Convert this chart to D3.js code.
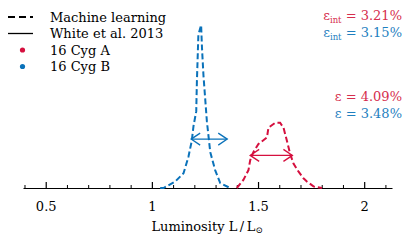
<!DOCTYPE html>
<html>
<head>
<meta charset="utf-8">
<script src="https://cdn.jsdelivr.net/npm/d3@7"></script>
<style>
  body { margin: 0; background: #fff; }
  text { font-family: "DejaVu Serif", serif; }
</style>
</head>
<body>
<div id="chart"></div>
<script>
// Luminosity values (L/Lsun) and relative density.
var lumA = [1.400, 1.431, 1.455, 1.463, 1.478, 1.502, 1.542, 1.549, 1.581, 1.604, 1.620, 1.636, 1.651, 1.667, 1.691, 1.714, 1.730, 1.761, 1.801];
var densA = [0, 0.05, 0.11, 0.17, 0.22, 0.27, 0.31, 0.37, 0.40, 0.40, 0.37, 0.29, 0.21, 0.15, 0.10, 0.06, 0.04, 0.01, 0];
var lumB = [1.039, 1.055, 1.110, 1.149, 1.172, 1.188, 1.196, 1.209, 1.212, 1.219, 1.232, 1.236, 1.243, 1.251, 1.259, 1.275, 1.298, 1.322, 1.369];
var densB = [0, 0, 0.04, 0.09, 0.19, 0.29, 0.38, 0.47, 0.65, 0.94, 1.0, 0.86, 0.69, 0.55, 0.41, 0.22, 0.11, 0.03, 0];

// White et al. 2013 ranges (shown as double arrows)
var starNames = ["16 Cyg A", "16 Cyg B"];
var whiteLo = [1.463, 1.185];
var whiteHi = [1.662, 1.355];
var whiteLevel = [0.20, 0.30];

// Annotations
var epsInt = ["3.21%", "3.15%"];
var eps = ["4.09%", "3.48%"];

var majorTicks = [0.5, 1, 1.5, 2];
var minorTicks = [0.4, 0.6, 0.7, 0.8, 0.9, 1.1, 1.2, 1.3, 1.4, 1.6, 1.7, 1.8, 1.9, 2.1];

var colors = ["#d5103f", "#0a72ba"];
var textColors = ["#d62e4d", "#1f7fbf"];

var width = 415, height = 248;
var fontSize = 13;

var xScale = d3.scaleLinear().domain([0.393, 2.131]).range([23, 392]);
var yScale = d3.scaleLinear().domain([0, 1]).range([188, 25]);

var svg = d3.select("#chart").append("svg")
  .attr("width", width)
  .attr("height", height);

// Axis: ticks point up into the plot.
var axisY = yScale(0);
svg.append("g")
  .attr("transform", "translate(0," + axisY + ")")
  .call(d3.axisBottom(xScale).tickValues(minorTicks).tickFormat("").tickSizeInner(-3).tickSizeOuter(0))
  .call(function(g) {
    g.select(".domain").attr("stroke", "#000").attr("stroke-width", 1.2);
    g.selectAll(".tick line").attr("stroke", "#000").attr("stroke-width", 1);
  });

svg.append("g")
  .attr("transform", "translate(0," + axisY + ")")
  .call(d3.axisBottom(xScale).tickValues(majorTicks).tickFormat(d3.format("")).tickSizeInner(-6).tickSizeOuter(0).tickPadding(14))
  .call(function(g) {
    g.select(".domain").remove();
    g.selectAll(".tick line").attr("stroke", "#000").attr("stroke-width", 1.2);
    g.selectAll(".tick text")
      .attr("fill", "#000")
      .style("font-family", "DejaVu Serif, serif")
      .style("font-size", fontSize + "px");
  });

// Axis label
var xlab = svg.append("text")
  .attr("x", 207)
  .attr("y", 231)
  .attr("text-anchor", "middle")
  .attr("font-size", fontSize)
  .attr("fill", "#000");
xlab.append("tspan").text("Luminosity  L\u2009/\u2009L");
xlab.append("tspan").attr("font-size", 8.5).attr("dy", 2).text("\u2299");

// Machine learning densities (dashed)
var line = d3.line()
  .x(function(d) { return xScale(d[0]); })
  .y(function(d) { return yScale(d[1]); });

var series = [d3.zip(lumB, densB), d3.zip(lumA, densA)];
var seriesColor = [colors[1], colors[0]];
series.forEach(function(s, i) {
  svg.append("path")
    .datum(s)
    .attr("fill", "none")
    .attr("stroke", seriesColor[i])
    .attr("stroke-width", 2)
    .attr("stroke-dasharray", "6,3")
    .attr("d", line);
});

// White et al. double arrows
starNames.forEach(function(name, i) {
  var x0 = xScale(whiteLo[i]), x1 = xScale(whiteHi[i]), y = yScale(whiteLevel[i]);
  var g = svg.append("g")
    .attr("stroke", colors[i])
    .attr("stroke-width", 1.3)
    .attr("fill", "none");
  g.append("line").attr("x1", x0).attr("x2", x1).attr("y1", y).attr("y2", y);
  g.append("path").attr("d", "M" + (x0 + 9) + "," + (y - 6) + "L" + x0 + "," + y + "L" + (x0 + 9) + "," + (y + 6));
  g.append("path").attr("d", "M" + (x1 - 9) + "," + (y - 6) + "L" + x1 + "," + y + "L" + (x1 - 9) + "," + (y + 6));
});

// Legend
var legend = svg.append("g");
var rowY = [17, 33.5, 50, 66.5];
legend.append("line").attr("x1", 8).attr("x2", 33).attr("y1", rowY[0]).attr("y2", rowY[0])
  .attr("stroke", "#000").attr("stroke-width", 2).attr("stroke-dasharray", "7,4");
legend.append("line").attr("x1", 8).attr("x2", 33).attr("y1", rowY[1]).attr("y2", rowY[1])
  .attr("stroke", "#000").attr("stroke-width", 1.3);
starNames.forEach(function(name, i) {
  legend.append("circle").attr("cx", 22.5).attr("cy", rowY[i + 2]).attr("r", 2.6).attr("fill", colors[i]);
});
var legendLabels = ["Machine learning", "White et al. 2013"].concat(starNames);
legendLabels.forEach(function(t, i) {
  legend.append("text")
    .attr("x", 50)
    .attr("y", rowY[i] + 4.8)
    .attr("font-size", fontSize)
    .attr("fill", "#000")
    .text(t);
});

// Error annotations
[20, 37].forEach(function(y, i) {
  var t = svg.append("text")
    .attr("x", 402).attr("y", y)
    .attr("text-anchor", "end")
    .attr("font-size", fontSize)
    .attr("fill", textColors[i]);
  t.append("tspan").text("\u03b5");
  t.append("tspan").attr("font-size", 8.5).attr("dy", 3).text("int");
  t.append("tspan").attr("dy", -3).text(" = " + epsInt[i]);
});
[101, 118].forEach(function(y, i) {
  svg.append("text")
    .attr("x", 402).attr("y", y)
    .attr("text-anchor", "end")
    .attr("font-size", fontSize)
    .attr("fill", textColors[i])
    .text("\u03b5 = " + eps[i]);
});
</script>
</body>
</html>
